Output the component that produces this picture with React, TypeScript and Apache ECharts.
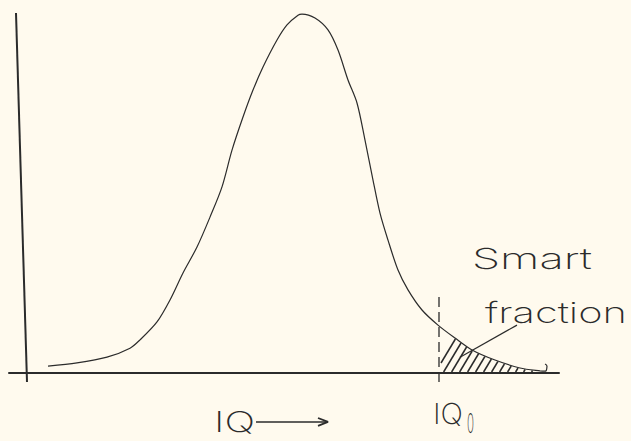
import React, { useEffect, useRef } from "react";
import * as echarts from "echarts";

// Bell curve (x: IQ axis units, y: relative frequency)
const CURVE_X = [7.8, 13.6, 19.6, 24.2, 26.2, 29.6, 32.2, 34.8, 37.6, 40.2, 42.6, 44.6, 46.8, 48.8, 50.8, 53.6, 55.6, 57.8, 58.6, 61.2, 63.8, 65.8, 67.8, 69.6, 71.2, 72.8, 74.2, 75.8, 77.8, 79.8, 82.6, 85.8, 89.2, 92.6, 97.2, 102.2, 106.2, 107.4];
const CURVE_Y = [1.9, 2.8, 4.4, 6.9, 9.2, 14.2, 20.3, 27.8, 35.0, 43.3, 51.7, 61.9, 71.1, 78.6, 85.0, 92.5, 96.7, 99.4, 99.7, 98.6, 95.3, 89.7, 81.4, 75.0, 64.7, 53.6, 44.4, 36.9, 28.6, 23.1, 17.5, 13.3, 9.7, 6.4, 3.6, 1.4, 0.6, 0.5];
// little curl at the end of the pen stroke
const HOOK_X = [107.4, 107.6, 107.2];
const HOOK_Y = [0.5, 1.9, 2.5];

// threshold IQ0
const IQ0 = 86.0;
const IQ0_TOP = 21.1;
const IQ0_BOTTOM = -3.9;

// hand-drawn vertical axis
const YAXIS_X = [1.4, 3.6];
const YAXIS_Y = [100, -2.5];

// leader line from "fraction" to the hatched area
const LEADER_X = [90.2, 101.6];
const LEADER_Y = [4.4, 13.3];

// arrow next to the "IQ" label
const ARROW_X = [49.4, 63.6];
const ARROW_Y = [-13.6, -13.6];
const ARROWHEAD_X = [61.8, 63.8, 61.8];
const ARROWHEAD_Y = [-12.5, -13.6, -14.7];

// texts
const LABEL_TEXT = ["Smart", "fraction", "IQ", "IQ", "0"];
const LABEL_LEFT = [92.6, 95.2, 41.0, 84.8, 91.6];
const LABEL_RIGHT = [116.6, 123.6, 49.2, 90.8, 93.0];
const LABEL_MID = [31.9, 16.8, -13.4, -11.25, -13.9];
const LABEL_SIZE = [29, 29, 28, 29, 27];

const BG = "#fffaee";
const INK = "#2b2b2b";
const FONT_FAMILY = "Inter, 'DejaVu Sans', sans-serif";
const FONT_WEIGHT = 200;

function measure(text: string, size: number): number {
  const ctx = document.createElement("canvas").getContext("2d")!;
  ctx.font = `${FONT_WEIGHT} ${size}px ${FONT_FAMILY}`;
  return ctx.measureText(text).width;
}

export default function App() {
  const ref = useRef<HTMLDivElement>(null);

  useEffect(() => {
    const chart = echarts.init(ref.current!, null, { renderer: "svg" });
    const curve = CURVE_X.map((x, i) => [x, CURVE_Y[i]]);
    const hook = HOOK_X.map((x, i) => [x, HOOK_Y[i]]);

    const stroke = (name: string, data: number[][], extra: any = {}) => ({
      type: "line",
      name,
      data,
      symbol: "none",
      clip: false,
      silent: true,
      z: 3,
      lineStyle: { color: INK, width: 1.3, ...(extra.lineStyle || {}) },
      ...(extra.smooth !== undefined ? { smooth: extra.smooth } : {}),
    });

    chart.setOption({
      animation: false,
      backgroundColor: BG,
      grid: { left: 9, right: 72, top: 13, bottom: 68 },
      xAxis: {
        type: "value",
        min: 0,
        max: 110,
        axisLine: { show: true, onZero: false, lineStyle: { color: INK, width: 2 } },
        axisTick: { show: false },
        axisLabel: { show: false },
        splitLine: { show: false },
      },
      yAxis: { type: "value", min: 0, max: 100, show: false },
      series: [
        stroke("curve", curve, { smooth: 0.3, lineStyle: { width: 1.2 } }),
        stroke("hook", hook, { smooth: 0.5, lineStyle: { width: 1.2 } }),
        stroke("yaxis", YAXIS_X.map((x, i) => [x, YAXIS_Y[i]]), { lineStyle: { width: 2 } }),
        stroke("iq0", [[IQ0, IQ0_TOP], [IQ0, IQ0_BOTTOM]], { lineStyle: { width: 1.3, type: [10, 5] } }),
        stroke("leader", LEADER_X.map((x, i) => [x, LEADER_Y[i]]), { lineStyle: { width: 1.2 } }),
        stroke("arrow", ARROW_X.map((x, i) => [x, ARROW_Y[i]]), { lineStyle: { width: 1.5 } }),
        stroke("arrowhead", ARROWHEAD_X.map((x, i) => [x, ARROWHEAD_Y[i]]), { lineStyle: { width: 1.8 } }),
        {
          type: "custom",
          name: "hatch",
          silent: true,
          clip: false,
          data: [[IQ0, 0]],
          renderItem: (params: any, api: any) => {
            const pts = curve.map((p) => api.coord(p));
            const axisY = api.coord([0, 0])[1];
            const xd = api.coord([IQ0, 0])[0];
            const lastX = pts[pts.length - 1][0];
            const curveY = (x: number) => {
              for (let i = 0; i < pts.length - 1; i++) {
                const a = pts[i], b = pts[i + 1];
                if (x >= a[0] && x <= b[0]) {
                  const t = (x - a[0]) / (b[0] - a[0] || 1);
                  return a[1] + t * (b[1] - a[1]);
                }
              }
              return axisY;
            };
            const k = 0.6;
            const children: any[] = [];
            for (let xb = xd - 4; xb < lastX; xb += 8) {
              const s0 = Math.max(1, (xd + 2 - xb) / k);
              let s = s0;
              while (s < 200) {
                const x = xb + s * k;
                const y = axisY - s;
                if (y <= curveY(x) + 1) break;
                s += 0.5;
              }
              if (s - s0 < 1.5) continue;
              children.push({
                type: "line",
                shape: { x1: xb + s0 * k, y1: axisY - s0, x2: xb + s * k, y2: axisY - s },
                style: { stroke: INK, lineWidth: 1.5 },
              });
            }
            return { type: "group", children };
          },
        },
      ],
    });

    const graphics = LABEL_TEXT.map((text, i) => {
      const [lx, my] = chart.convertToPixel({ gridIndex: 0 }, [LABEL_LEFT[i], LABEL_MID[i]]) as number[];
      const [rx] = chart.convertToPixel({ gridIndex: 0 }, [LABEL_RIGHT[i], LABEL_MID[i]]) as number[];
      const w = measure(text, LABEL_SIZE[i]);
      return {
        type: "text",
        x: lx,
        y: my,
        scaleX: (rx - lx) / w,
        silent: true,
        style: {
          text,
          x: 0,
          y: 0,
          fill: INK,
          fontSize: LABEL_SIZE[i],
          fontFamily: FONT_FAMILY,
          fontWeight: FONT_WEIGHT,
          textAlign: "left",
          textVerticalAlign: "middle",
        },
      };
    });
    chart.setOption({ graphic: graphics });

    return () => chart.dispose();
  }, []);

  return (
    <div
      ref={ref}
      style={{ position: "fixed", left: 0, top: 0, width: 631, height: 441, background: BG }}
    />
  );
}
